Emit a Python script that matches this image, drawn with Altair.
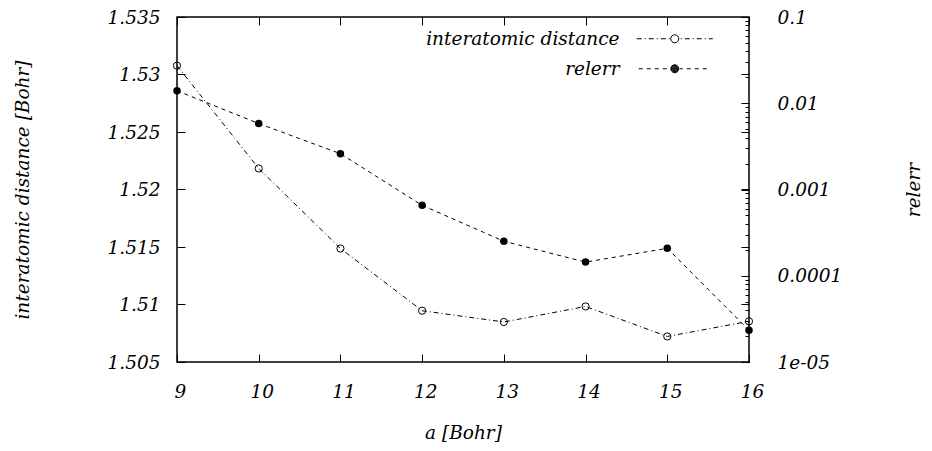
import altair as alt
import pandas as pd

# ---- data ----
a_values = [9, 10, 11, 12, 13, 14, 15, 16]
distance = [1.53077, 1.52183, 1.51487, 1.50946, 1.50848, 1.50983, 1.50722, 1.50854]
relerr = [0.01396, 0.00582, 0.0026, 0.000656, 0.000251, 0.000144, 0.000208, 0.0000233]

x_ticks = [9, 10, 11, 12, 13, 14, 15, 16]
y_ticks = [1.505, 1.51, 1.515, 1.52, 1.525, 1.53, 1.535]
y2_major = [0.00001, 0.0001, 0.001, 0.01, 0.1]
y2_labels = ["0.1", "0.01", "0.001", "0.0001", "1e-05"]
series_names = ["interatomic distance", "relerr"]

df = pd.DataFrame({"a": a_values, "dist": distance, "relerr": relerr})

# ---- style ----
FONT = "DejaVu Serif"
FS = 18.5
W, H = 572, 345
TICK = 8
DASH_DIST = [5, 3, 1, 3]
DASH_REL = [4, 4]

y2_minor = [m * 10.0 ** e for e in range(-5, -1) for m in range(2, 10)]


def circle(r):
    return f"M{-r},0A{r},{r} 0 1,0 {r},0A{r},{r} 0 1,0 {-r},0Z"


def sample_path(pattern, half_len, r, solid=False):
    segs = []
    x = -half_len
    i = 0
    hole = r + 1
    while x < half_len:
        L = pattern[i % len(pattern)]
        if i % 2 == 0:
            xa, xb = x, min(x + L, half_len)
            if xb <= -hole or xa >= hole:
                segs.append((xa, xb))
            else:
                if xa < -hole:
                    segs.append((xa, -hole))
                if xb > hole:
                    segs.append((hole, xb))
        x += L
        i += 1
    p = "".join(f"M{xa:.2f},0L{xb:.2f},0" for xa, xb in segs)
    if solid:
        for rr in [r, r - 0.6, r - 1.2, r - 1.8, r - 2.4, r - 3.0, 0.4]:
            p += circle(round(rr, 2))
    else:
        p += circle(r)
    return p


path_dist = sample_path(DASH_DIST, 38, 4)
path_rel = sample_path(DASH_REL, 36, 4, solid=True)

common_axis = dict(
    domain=False, grid=False, tickColor="black", tickWidth=1,
    labelFont=FONT, labelFontSize=FS, labelFontStyle="italic", labelColor="black",
    titleFont=FONT, titleFontSize=FS, titleFontStyle="italic", titleFontWeight="normal",
    titleColor="black", labelFlush=False, labelOverlap=False,
)

x_scale = alt.Scale(domain=[9, 16], nice=False, zero=False)
y_scale = alt.Scale(domain=[1.505, 1.535], nice=False, zero=False)
y2_scale = alt.Scale(type="log", domain=[0.00001, 0.1], nice=False)

x_bottom = alt.Axis(orient="bottom", offset=-TICK, tickSize=TICK, values=x_ticks,
                    labelPadding=29, labelBaseline="middle", labelOffset=3,
                    title="a [Bohr]", titleX=W / 2, titleY=78, titleBaseline="middle",
                    titleAlign="center", **common_axis)
x_top = alt.Axis(orient="top", offset=-TICK, tickSize=TICK, values=x_ticks,
                 labels=False, title=None, **common_axis)
y_left = alt.Axis(orient="left", offset=-TICK, tickSize=TICK, values=y_ticks,
                  format=".3~f", labelPadding=17, labelAlign="right", labelBaseline="middle",
                  title="interatomic distance [Bohr]", titleAngle=270, titleX=-163,
                  titleY=H / 2, titleBaseline="middle", titleAlign="center", **common_axis)
y_mirror = alt.Axis(orient="right", offset=-TICK, tickSize=TICK, values=y_ticks,
                    labels=False, title=None, **common_axis)
labels_js = "[" + ",".join(f"'{s}'" for s in y2_labels) + "]"
y2_axis = alt.Axis(orient="right", offset=-TICK, tickSize=TICK, values=y2_major,
                   labelExpr=labels_js + "[round(-log(datum.value)/LN10) - 1]",
                   labelPadding=28, labelAlign="left", labelBaseline="middle",
                   title="relerr", titleAngle=270, titleX=172, titleY=H / 2,
                   titleBaseline="middle", titleAlign="center", **common_axis)
y2_minor_axis = alt.Axis(orient="right", offset=-4, tickSize=4, values=y2_minor,
                         labels=False, title=None, **common_axis)

X_b = alt.X("a:Q", scale=x_scale, axis=x_bottom)
X_t = alt.X("a:Q", scale=x_scale, axis=x_top)
Y_d = alt.Y("dist:Q", scale=y_scale, axis=y_left)
Y_r = alt.Y("relerr:Q", scale=y2_scale, axis=y2_axis)

base = alt.Chart(df)

line_d = base.mark_line(color="black", strokeWidth=1, strokeDash=DASH_DIST).encode(x=X_b, y=Y_d)
pts_d = base.mark_point(shape="circle", filled=False, size=52, color="black",
                        strokeWidth=1, opacity=1).encode(x=X_b, y=Y_d)
layer_d = alt.layer(line_d, pts_d)

line_r = base.mark_line(color="black", strokeWidth=1, strokeDash=DASH_REL).encode(x=X_t, y=Y_r)
pts_r = base.mark_point(shape="circle", filled=True, size=56, color="black",
                        opacity=1).encode(x=X_t, y=Y_r)
layer_r = alt.layer(line_r, pts_r)

minor_r = base.mark_point(opacity=0).encode(
    y=alt.Y("relerr:Q", scale=y2_scale, axis=y2_minor_axis))
mirror_d = base.mark_point(opacity=0).encode(
    y=alt.Y("dist:Q", scale=y_scale, axis=y_mirror))


def legend_layer(name, path, ly):
    leg = alt.Legend(
        orient="none", legendX=488.5, legendY=ly, title=None, padding=0,
        labelAlign="right", labelOffset={"expr": "-64.5"}, labelBaseline="middle",
        labelFont=FONT, labelFontSize=FS, labelFontStyle="italic", labelColor="black",
        labelLimit=0, symbolSize=4, symbolStrokeWidth=1, symbolOpacity=1,
        symbolStrokeColor="black", symbolFillColor="transparent",
    )
    d = pd.DataFrame({"series": [name]})
    return alt.Chart(d).mark_point(opacity=0, filled=False, fill="transparent",
                                   stroke="black", strokeWidth=1).encode(
        shape=alt.Shape("series:N", scale=alt.Scale(domain=[name], range=[path]), legend=leg)
    )


leg_d = legend_layer(series_names[0], path_dist, 12.5)
leg_r = legend_layer(series_names[1], path_rel, 42.5)

chart = alt.layer(layer_d, layer_r, minor_r, mirror_d, leg_d, leg_r).resolve_scale(
    x="independent", y="independent", shape="independent"
).resolve_legend(shape="independent").properties(
    width=W, height=H,
    autosize=alt.AutoSizeParams(type="none"),
    padding={"left": 169, "top": 9, "right": 175, "bottom": 81},
    background="white",
).configure_view(stroke="black", strokeWidth=1.5)

chart.save("out.html", embed_options={"renderer": "svg", "actions": False})
